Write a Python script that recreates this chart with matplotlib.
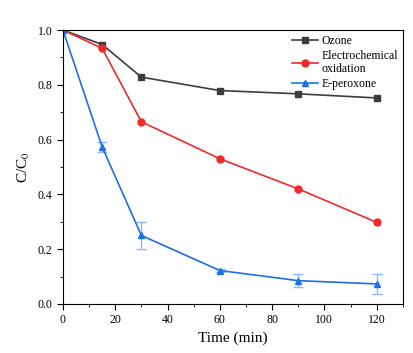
import matplotlib
matplotlib.use("Agg")
import matplotlib.pyplot as plt
from matplotlib.ticker import MultipleLocator

plt.rcParams['font.family'] = ['Liberation Serif', 'DejaVu Serif']
plt.rcParams['mathtext.fontset'] = 'stix'

time = [0, 15, 30, 60, 90, 120]
ozone = [1.0, 0.947, 0.828, 0.779, 0.767, 0.752]
electro = [1.0, 0.933, 0.665, 0.530, 0.420, 0.298]
eperox = [1.0, 0.573, 0.250, 0.122, 0.085, 0.073]
eperox_err = [0.0, 0.018, 0.050, 0.006, 0.025, 0.035]

fig = plt.figure(figsize=(4.14, 3.53), dpi=100)
ax = fig.add_axes([0.152, 0.139, 0.821, 0.776])

ax.errorbar(time, eperox, yerr=eperox_err, fmt='none',
            ecolor='#8db6f2', elinewidth=1, capsize=3.5)
ax.plot(time, ozone, '-s', color='#3d3d3d', ms=5, lw=1.2, label='Ozone')
ax.plot(time, electro, '-o', color='#ee2b2b', ms=5, lw=1.2, label='Electrochemical\noxidation')
ax.plot(time, eperox, '-^', color='#1e6fe6', ms=5, lw=1.2, label='E-peroxone')

ax.set_xlim(0, 130)
ax.set_ylim(0, 1.0)
ax.xaxis.set_major_locator(MultipleLocator(20))
ax.xaxis.set_minor_locator(MultipleLocator(10))
ax.yaxis.set_major_locator(MultipleLocator(0.2))
ax.yaxis.set_minor_locator(MultipleLocator(0.1))
ax.tick_params(which='both', direction='out', labelsize=8.5)
ax.tick_params(which='major', length=4)
ax.tick_params(which='minor', length=2)
ax.set_xlabel('Time (min)', fontsize=11)
ax.set_ylabel(r'C/C$_0$', fontsize=11)

ax.legend(loc='upper right', frameon=False, fontsize=8.5, handlelength=2.2,
          borderaxespad=0.0, labelspacing=0.25, handletextpad=0.3)

fig.savefig('out.png', dpi=100)
